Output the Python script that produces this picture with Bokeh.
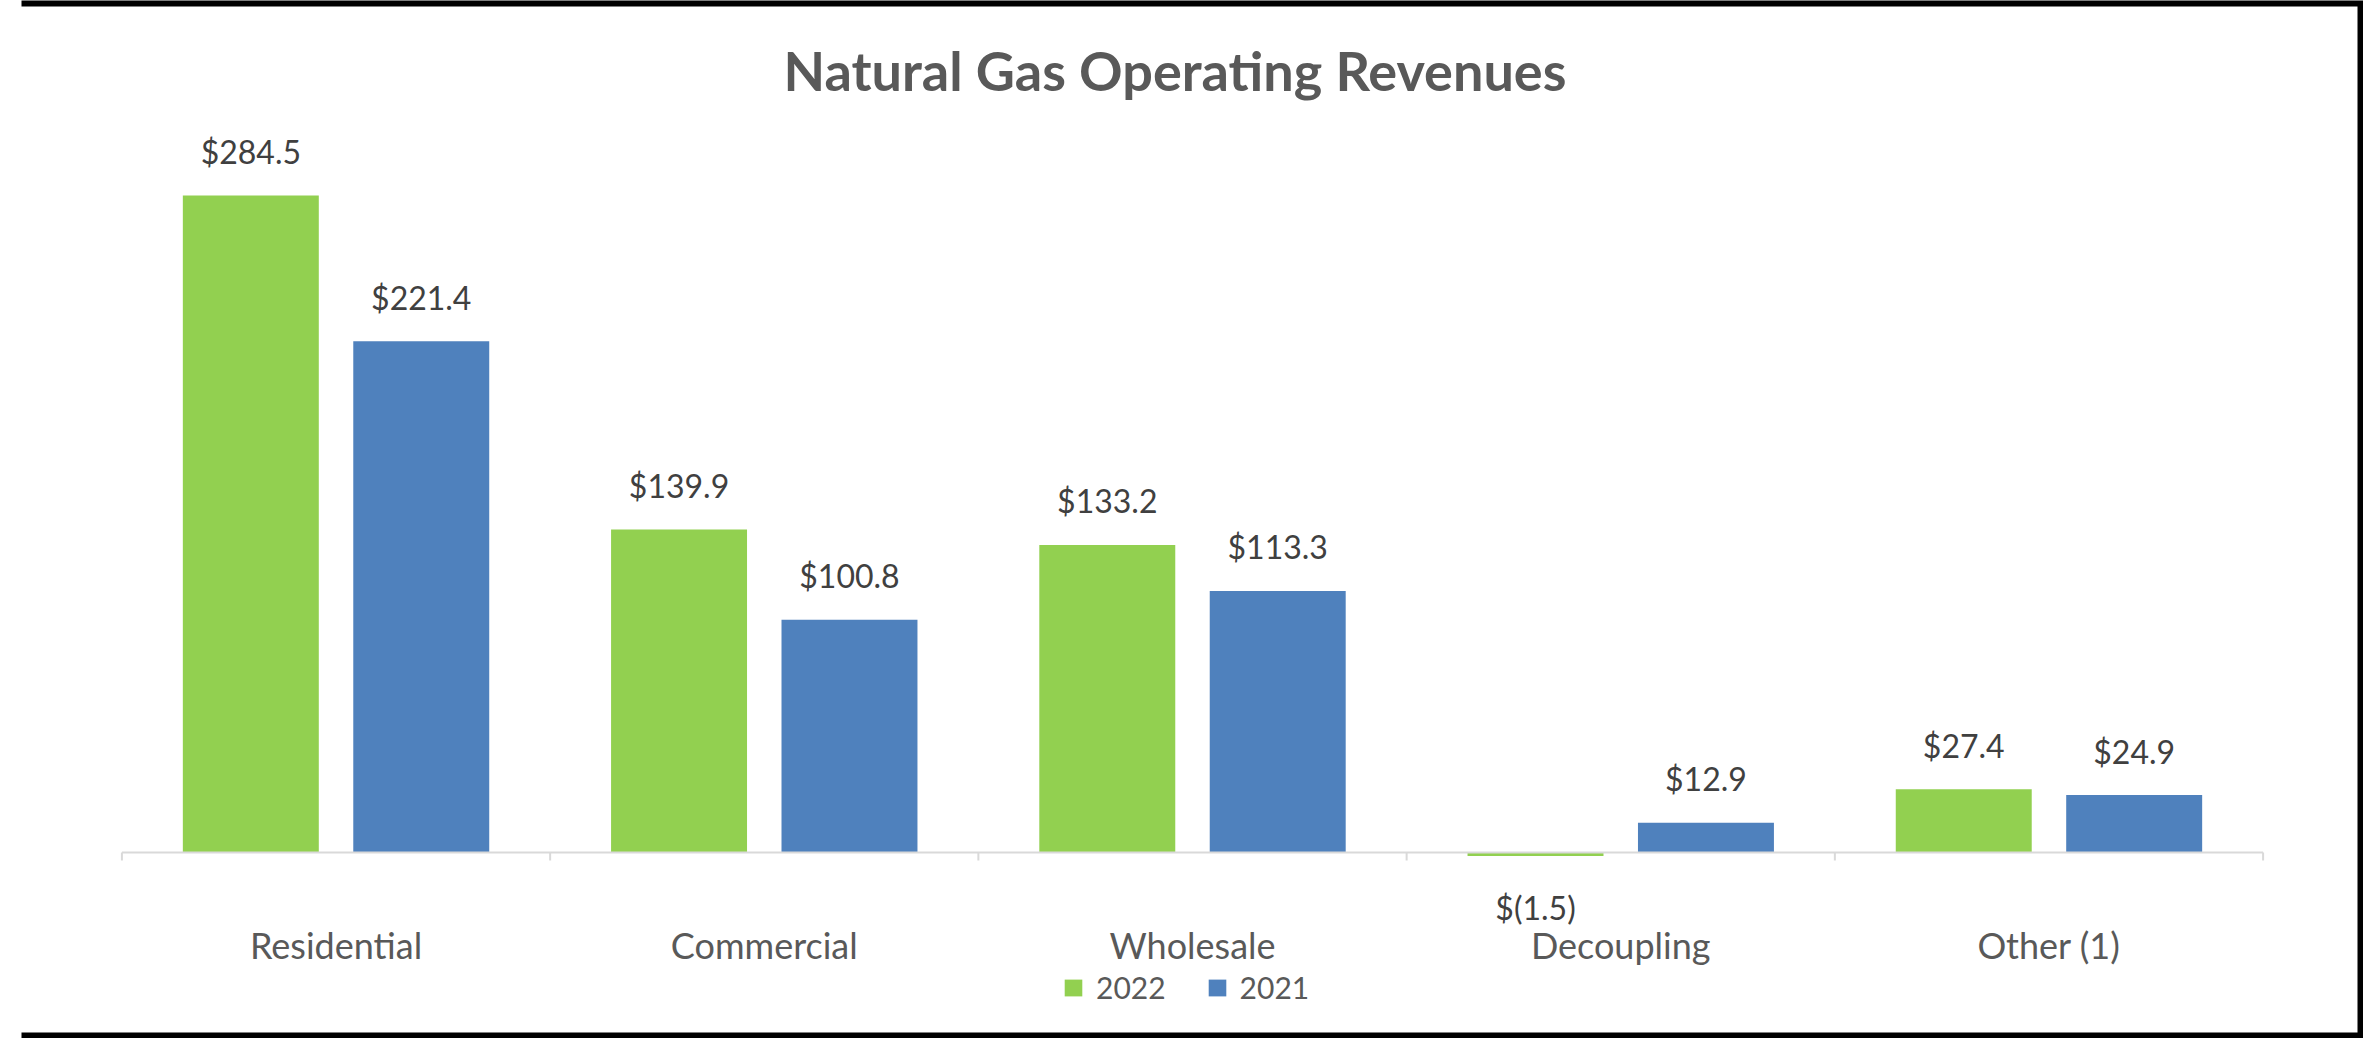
from bokeh.plotting import figure
from bokeh.models import (FactorRange, Range1d, ColumnDataSource, Label, Legend,
                          LegendItem, CategoricalAxis, BoxAnnotation)
from bokeh.transform import dodge
from bokeh.core.properties import value
from bokeh.embed import file_html
from bokeh.resources import INLINE

# ---------------- data ----------------
categories = ["Residential", "Commercial", "Wholesale", "Decoupling", "Other (1)"]
rev_2022 = [284.5, 139.9, 133.2, -1.5, 27.4]
rev_2021 = [221.4, 100.8, 113.3, 12.9, 24.9]
series_names = ["2022", "2021"]
title_text = "Natural Gas Operating Revenues"


def money(v):
    return f"${v:.1f}" if v >= 0 else f"$({abs(v):.1f})"


# ---------------- layout constants ----------------
W, H = 2363, 1038
LEFT = 21             # canvas pixels left of the frame
PX_PER_UNIT = 2.309
BASE_Y = 852          # canvas pixel row of the zero line
Y_TOP = BASE_Y / PX_PER_UNIT
Y_BOT = -(H - BASE_Y) / PX_PER_UNIT

GREEN = "#92D050"
BLUE = "#4F81BD"
FONT = "Lato"

BAR_W = 0.3175
OFFSET = 0.199

src = ColumnDataSource(dict(
    cat=categories,
    v22=rev_2022,
    v21=rev_2021,
    l22=[money(v) for v in rev_2022],
    l21=[money(v) for v in rev_2021],
    o22=[-44 if v >= 0 else 52 for v in rev_2022],
    o21=[-44 if v >= 0 else 52 for v in rev_2021],
))

p = figure(width=W, height=H,
           x_range=FactorRange(factors=categories, range_padding=0.0938,
                               range_padding_units="percent"),
           y_range=Range1d(Y_BOT, Y_TOP),
           output_backend="svg", toolbar_location=None,
           x_axis_location=None, y_axis_location=None,
           min_border=0, min_border_left=LEFT)
p.title.visible = False
p.xgrid.visible = False
p.ygrid.visible = False
p.outline_line_color = None
p.background_fill_color = "white"
p.border_fill_color = "white"

# bars
r22 = p.vbar(x=dodge("cat", -OFFSET, range=p.x_range), top="v22", width=BAR_W,
             source=src, fill_color=GREEN, line_color=None)
r21 = p.vbar(x=dodge("cat", OFFSET, range=p.x_range), top="v21", width=BAR_W,
             source=src, fill_color=BLUE, line_color=None)

# zero line and category separators
n = len(categories)
p.segment(x0=[0], y0=[0], x1=[n], y1=[0], line_color="#D9D9D9", line_width=2)
bounds = list(range(n + 1))
p.segment(x0=bounds, y0=[0] * len(bounds), x1=bounds,
          y1=[-8 / PX_PER_UNIT] * len(bounds), line_color="#D9D9D9", line_width=2)

# data labels
for ycol, off, lab, ocol in (("v22", -OFFSET, "l22", "o22"), ("v21", OFFSET, "l21", "o21")):
    p.text(x=dodge("cat", off, range=p.x_range), y=ycol, text=lab, source=src,
           y_offset=ocol, text_align="center", text_baseline="middle",
           text_font=value(FONT), text_font_size="32px", text_color="#404040")

# category axis at the zero line
xaxis = CategoricalAxis(fixed_location=0)
xaxis.axis_line_color = None
xaxis.major_tick_line_color = None
xaxis.minor_tick_line_color = None
xaxis.major_tick_in = 0
xaxis.major_tick_out = 0
xaxis.major_label_standoff = 70
xaxis.major_label_text_font = FONT
xaxis.major_label_text_font_size = "36px"
xaxis.major_label_text_color = "#595959"
p.add_layout(xaxis, "below")

# title
title = Label(x=2.459, y=(BASE_Y - 70) / PX_PER_UNIT, text=title_text,
              text_align="center", text_baseline="middle",
              text_font=FONT, text_font_style="bold", text_font_size="54px",
              text_color="#595959")
p.add_layout(title)

# legend
legend = Legend(items=[LegendItem(label=series_names[0], renderers=[r22]),
                       LegendItem(label=series_names[1], renderers=[r21])],
                orientation="horizontal", location=(1062 - LEFT, 33),
                glyph_width=22, glyph_height=21, label_standoff=12, spacing=40,
                label_text_font=FONT, label_text_font_size="30px",
                label_text_color="#595959", border_line_color=None,
                background_fill_alpha=0, padding=0, margin=0)
p.add_layout(legend, "center")

# outer black frame around the whole picture
border = BoxAnnotation(left=0, right=W, top=0, bottom=H,
                       left_units="canvas", right_units="canvas",
                       top_units="canvas", bottom_units="canvas",
                       fill_alpha=0, line_color="black", line_alpha=1.0,
                       line_width=12)
p.add_layout(border)

open("out.html", "w").write(file_html(p, INLINE))
